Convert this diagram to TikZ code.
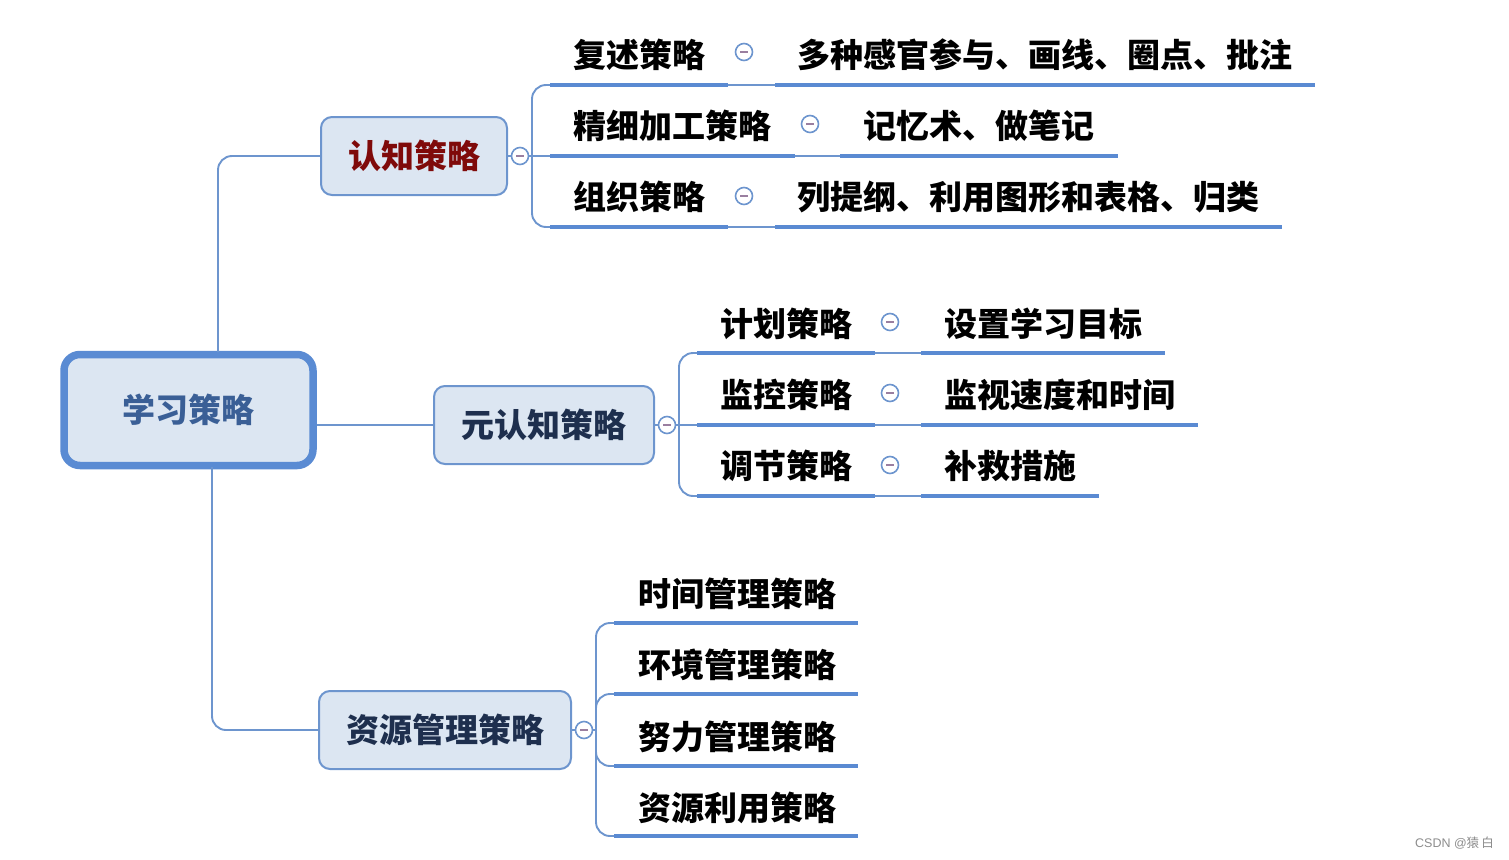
\documentclass[tikz,border=0pt]{standalone}
\usepackage{fontspec}
\newfontfamily\cjk{Noto Sans CJK SC}
\setsansfont{Liberation Sans}
\definecolor{linkblue}{HTML}{6D95CE}
\definecolor{barblue}{HTML}{5A8AD2}
\definecolor{boxfill}{HTML}{DCE6F2}
\definecolor{rootedge}{HTML}{5A8BD3}
\definecolor{roottext}{HTML}{3A5F96}
\definecolor{darkred}{HTML}{7F0A0A}
\definecolor{navy}{HTML}{1E2F4E}
\definecolor{minusc}{HTML}{9A7FA0}
\tikzset{
  link/.style={draw=linkblue, line width=1.9pt, rounded corners=14pt},
  bar/.style={draw=barblue, line width=4.5pt},
  thinbar/.style={draw=linkblue, line width=1.9pt},
  rootbox/.style={draw=rootedge, fill=boxfill, line width=7.5pt, rounded corners=16pt,
    minimum width=249pt, minimum height=111pt, font=\cjk\bfseries\fontsize{33}{36}\selectfont, text=roottext},
  mainbox/.style={draw=linkblue, fill=boxfill, line width=2pt, rounded corners=11pt,
    minimum height=78pt, font=\cjk\bfseries\fontsize{33}{36}\selectfont, text=navy},
  leaf/.style={anchor=west, inner sep=0pt, font=\cjk\bfseries\fontsize{33}{36}\selectfont, text=black},
  fold/.style={circle, draw=linkblue, fill=white, line width=1.6pt, minimum size=17pt, inner sep=0pt,
    path picture={\draw[minusc, line width=1.2pt] ([xshift=-4pt]path picture bounding box.center) -- ([xshift=4pt]path picture bounding box.center);}},
}
\begin{document}
\begin{tikzpicture}[x=1pt,y=-1pt]
\useasboundingbox (0,0) rectangle (1509,859);

% ---------- main nodes ----------
\node[rootbox] (root) at (188.5,410) {学习策略};
\node[mainbox, minimum width=186pt, text=darkred] (cog) at (414,156) {认知策略};
\node[mainbox, minimum width=220pt] (meta) at (544,425) {元认知策略};
\node[mainbox, minimum width=252pt] (res) at (445,730) {资源管理策略};

% ---------- root links ----------
\coordinate (rtop) at (218,352);
\coordinate (rbot) at (212,467);
\draw[link] (rtop) |- (cog.west);
\draw[link] (rbot) |- (res.west);
\draw[link] (root.east |- meta.west) -- (meta.west);

% ---------- fold markers ----------
\node[fold] (fc) at (520,156) {};
\node[fold] (fm) at (667,425) {};
\node[fold] (fr) at (584,730) {};
\draw[link] (cog.east) -- (fc.west);
\draw[link] (meta.east) -- (fm.west);
\draw[link] (res.east) -- (fr.west);

% ---------- cognitive strategies ----------
\coordinate (cj) at (532,156);
\coordinate (c1a) at (550,85);  \coordinate (c1b) at (728,85);  \coordinate (c1c) at (775,85);  \coordinate (c1d) at (1315,85);
\coordinate (c2a) at (550,156); \coordinate (c2b) at (795,156); \coordinate (c2c) at (840,156); \coordinate (c2d) at (1118,156);
\coordinate (c3a) at (550,227); \coordinate (c3b) at (728,227); \coordinate (c3c) at (775,227); \coordinate (c3d) at (1282,227);
\draw[link] (fc.east) -- (c2a);
\draw[link] (cj) |- (c1a);
\draw[link] (cj) |- (c3a);
\foreach \i in {1,2,3}{
  \draw[bar] (c\i a) -- (c\i b);
  \draw[thinbar] (c\i b) -- (c\i c);
  \draw[bar] (c\i c) -- (c\i d);
}
\node[leaf] (c1) at (573,55) {复述策略};
\node[leaf] (c2) at (573,126) {精细加工策略};
\node[leaf] (c3) at (573,197) {组织策略};
\node[fold] (fc1) at (744,52) {};
\node[fold] (fc2) at (810,124) {};
\node[fold] (fc3) at (744,196) {};
\node[leaf] (d1) at (797,55) {多种感官参与、画线、圈点、批注};
\node[leaf] (d2) at (863,126) {记忆术、做笔记};
\node[leaf] (d3) at (797,197) {列提纲、利用图形和表格、归类};

% ---------- metacognitive strategies ----------
\coordinate (mj) at (679,425);
\coordinate (m1a) at (697,353); \coordinate (m1b) at (875,353); \coordinate (m1c) at (921,353); \coordinate (m1d) at (1165,353);
\coordinate (m2a) at (697,425); \coordinate (m2b) at (875,425); \coordinate (m2c) at (921,425); \coordinate (m2d) at (1198,425);
\coordinate (m3a) at (697,496); \coordinate (m3b) at (875,496); \coordinate (m3c) at (921,496); \coordinate (m3d) at (1099,496);
\draw[link] (fm.east) -- (m2a);
\draw[link] (mj) |- (m1a);
\draw[link] (mj) |- (m3a);
\foreach \i in {1,2,3}{
  \draw[bar] (m\i a) -- (m\i b);
  \draw[thinbar] (m\i b) -- (m\i c);
  \draw[bar] (m\i c) -- (m\i d);
}
\node[leaf] (m1) at (720,324) {计划策略};
\node[leaf] (m2) at (720,395) {监控策略};
\node[leaf] (m3) at (720,466) {调节策略};
\node[fold] (fm1) at (890,322) {};
\node[fold] (fm2) at (890,393) {};
\node[fold] (fm3) at (890,465) {};
\node[leaf] (n1) at (944,324) {设置学习目标};
\node[leaf] (n2) at (944,395) {监视速度和时间};
\node[leaf] (n3) at (944,466) {补救措施};

% ---------- resource management strategies ----------
\coordinate (rj) at (596,730);
\coordinate (r1a) at (614,623); \coordinate (r1b) at (858,623);
\coordinate (r2a) at (614,694); \coordinate (r2b) at (858,694);
\coordinate (r3a) at (614,766); \coordinate (r3b) at (858,766);
\coordinate (r4a) at (614,836); \coordinate (r4b) at (858,836);
\draw[link] (fr.east) -- (rj);
\draw[link] (rj) |- (r1a);
\draw[link] (rj) |- (r2a);
\draw[link] (rj) |- (r3a);
\draw[link] (rj) |- (r4a);
\foreach \i in {1,2,3,4}{
  \draw[bar] (r\i a) -- (r\i b);
}
\node[leaf] (r1) at (638,594) {时间管理策略};
\node[leaf] (r2) at (638,665) {环境管理策略};
\node[leaf] (r3) at (638,737) {努力管理策略};
\node[leaf] (r4) at (638,808) {资源利用策略};

% ---------- credit ----------
\node[anchor=east, inner sep=0pt, text=black!45, font=\sffamily\fontsize{12.5}{14}\selectfont] (credit) at (1494,843) {CSDN @{\cjk 猿}\,{\cjk 白}};
\end{tikzpicture}
\end{document}
